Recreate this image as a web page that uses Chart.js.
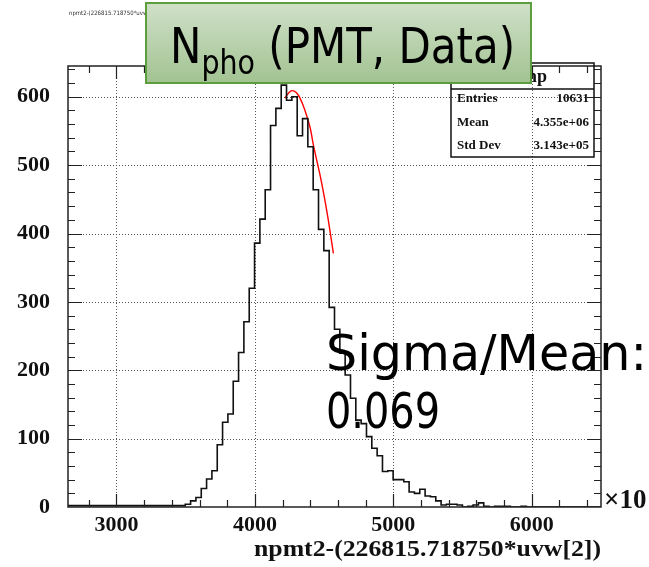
<!DOCTYPE html>
<html>
<head>
<meta charset="utf-8">
<script src="https://cdn.jsdelivr.net/npm/chart.js@4.4.1/dist/chart.umd.min.js"></script>
<style>
  html, body { margin: 0; padding: 0; background: #fff; }
</style>
</head>
<body>
<canvas id="histo" width="649" height="567"></canvas>
<script>
// ---- data ----------------------------------------------------------
// histogram: 100 bins of 38.5 between 2650 and 6500 (x10^3)
const binStart = 2650;
const binWidth = 38.5;
const firstBin = 22; // first non-empty bin
const binCounts = [
  2, 4, 9, 14, 27, 41, 53, 91, 124, 136,
  184, 226, 271, 320, 386, 421, 464, 558, 583, 617,
  595, 600, 543, 568, 527, 464, 406, 375, 292, 260,
  225, 193, 159, 127, 122, 103, 86, 75, 52, 53,
  40, 40, 37, 22, 20, 26, 16, 15, 9, 3,
  4, 4, 3, 0, 1, 3, 6, 1, 0, 1,
  1, 1, 0, 0, 1
];

// red gaussian fit
const fitX = [4217, 4245, 4268, 4300, 4326, 4360, 4400, 4422, 4450, 4470, 4500, 4530, 4567];
const fitY = [598, 606, 609, 606, 598, 581, 554, 530, 504, 486, 455, 420, 371];

// axis labels
const xTickValues = [3000, 4000, 5000, 6000];
const yTickValues = [0, 100, 200, 300, 400, 500, 600];

// stats box
const statsTitle = "htemp";
const statsLabels = ["Entries", "Mean", "Std Dev"];
const statsValues = ["10631", "4.355e+06", "3.143e+05"];

const xTitle = "npmt2-(226815.718750*uvw[2])";
const topTitle = "npmt2-(226815.718750*uvw[2]) {uvw[2]>0}";
const resultLines = ["Sigma/Mean:", "0.069"];

// ---- build datasets -------------------------------------------------
const histPoints = [{ x: binStart, y: 0 }];
binCounts.forEach((c, i) => {
  histPoints.push({ x: binStart + (firstBin + i) * binWidth, y: c });
});
histPoints.push({ x: binStart + (firstBin + binCounts.length) * binWidth, y: 0 });
histPoints.push({ x: 6500, y: 0 });

const fitPoints = fitX.map((x, i) => ({ x: x, y: fitY[i] }));

const SERIF = '"Liberation Serif", "Times New Roman", serif';
const SANS = '"DejaVu Sans Condensed", "DejaVu Sans", sans-serif';

// draw text squeezed/stretched to a given width
function fitText(ctx, text, x, y, width) {
  const w = ctx.measureText(text).width;
  ctx.save();
  ctx.translate(x, y);
  ctx.scale(width / w, 1);
  ctx.fillText(text, 0, 0);
  ctx.restore();
}

// ---- ROOT style frame, ticks, stats and overlays --------------------
const rootFrame = {
  id: "rootFrame",
  beforeDatasetsDraw(chart) {
    const { ctx, chartArea: a, scales } = chart;
    ctx.save();
    ctx.strokeStyle = "#555";
    ctx.lineWidth = 1;
    ctx.setLineDash([1, 2]);
    scales.x.ticks.forEach(t => {
      const px = Math.round(scales.x.getPixelForValue(t.value)) + 0.5;
      ctx.beginPath(); ctx.moveTo(px, a.top); ctx.lineTo(px, a.bottom); ctx.stroke();
    });
    scales.y.ticks.forEach(t => {
      if (t.value === 0) return;
      const py = Math.round(scales.y.getPixelForValue(t.value)) + 0.5;
      ctx.beginPath(); ctx.moveTo(a.left, py); ctx.lineTo(a.right, py); ctx.stroke();
    });
    ctx.restore();
  },
  afterDatasetsDraw(chart) {
    const { ctx, chartArea: a, scales } = chart;
    const sx = scales.x, sy = scales.y;
    ctx.save();

    // frame
    ctx.strokeStyle = "#222";
    ctx.lineWidth = 1.5;
    ctx.strokeRect(a.left, a.top, a.right - a.left, a.bottom - a.top);

    // ticks
    ctx.lineWidth = 1.2;
    ctx.beginPath();
    for (let v = 2800; v <= 6400; v += 200) {
      const px = Math.round(sx.getPixelForValue(v)) + 0.5;
      const len = v % 1000 === 0 ? 13 : 7;
      ctx.moveTo(px, a.bottom); ctx.lineTo(px, a.bottom - len);
      ctx.moveTo(px, a.top); ctx.lineTo(px, a.top + len);
    }
    for (let v = 20; v <= 640; v += 20) {
      const py = Math.round(sy.getPixelForValue(v)) + 0.5;
      const len = v % 100 === 0 ? 14 : 7;
      ctx.moveTo(a.left, py); ctx.lineTo(a.left + len, py);
      ctx.moveTo(a.right, py); ctx.lineTo(a.right - len, py);
    }
    ctx.stroke();

    // axis title and exponent
    ctx.fillStyle = "#111";
    ctx.font = "bold 23px " + SERIF;
    ctx.textBaseline = "alphabetic";
    fitText(ctx, xTitle, 254, 556, 347);
    ctx.font = "bold 27px " + SERIF;
    ctx.fillText("\u00d710", 604, 508);
    ctx.font = "bold 16px " + SERIF;
    ctx.fillText("3", 650, 494);

    // tiny pad title
    ctx.font = "6px " + SANS;
    ctx.fillStyle = "#333";
    ctx.fillText(topTitle, 69, 15);

    // stats box (no fill)
    const bx0 = 451, bx1 = 594, by0 = 63, by1 = 157;
    ctx.strokeStyle = "#111";
    ctx.lineWidth = 1.5;
    ctx.strokeRect(bx0, by0, bx1 - bx0, by1 - by0);
    ctx.beginPath(); ctx.moveTo(bx0, 89); ctx.lineTo(bx1, 89); ctx.stroke();
    ctx.fillStyle = "#111";
    ctx.font = "bold 18px " + SERIF;
    ctx.textAlign = "center";
    ctx.fillText(statsTitle, (bx0 + bx1) / 2, 82);
    ctx.font = "bold 13px " + SERIF;
    statsLabels.forEach((lab, i) => {
      const by = 102 + i * 23.5;
      ctx.textAlign = "left";
      ctx.fillText(lab, bx0 + 6, by);
      ctx.textAlign = "right";
      ctx.fillText(statsValues[i], bx1 - 5, by);
    });
    ctx.textAlign = "left";

    // Sigma/Mean annotation
    ctx.fillStyle = "#000";
    ctx.font = "50px " + SANS;
    fitText(ctx, resultLines[0], 326, 370, 321);
    fitText(ctx, resultLines[1], 326, 428, 114);

    // green title box
    const gx0 = 146, gx1 = 531, gy0 = 3, gy1 = 83;
    const grad = ctx.createLinearGradient(0, gy0, 0, gy1);
    grad.addColorStop(0, "#d0e0c8");
    grad.addColorStop(1, "#a2c392");
    ctx.fillStyle = grad;
    ctx.fillRect(gx0, gy0, gx1 - gx0, gy1 - gy0);
    ctx.strokeStyle = "#5c9d3e";
    ctx.lineWidth = 2;
    ctx.strokeRect(gx0, gy0, gx1 - gx0, gy1 - gy0);

    ctx.fillStyle = "#000";
    const big = "50px " + SANS, small = "34px " + SANS;
    ctx.font = big; const wN = ctx.measureText("N").width;
    ctx.font = small; const wSub = ctx.measureText("pho").width;
    ctx.font = big; const wRest = ctx.measureText(" (PMT, Data)").width;
    const scaleX = 345 / (wN + wSub + wRest);
    ctx.save();
    ctx.translate(170, 63);
    ctx.scale(scaleX, 1);
    ctx.font = big; ctx.fillText("N", 0, 0);
    ctx.font = small; ctx.fillText("pho", wN, 11);
    ctx.font = big; ctx.fillText(" (PMT, Data)", wN + wSub, 0);
    ctx.restore();

    ctx.restore();
  }
};

// ---- chart ----------------------------------------------------------
const tickFont = { family: SERIF, weight: "bold", size: 22 };

new Chart(document.getElementById("histo"), {
  type: "line",
  data: {
    datasets: [
      {
        data: histPoints,
        stepped: "after",
        borderColor: "#111",
        borderWidth: 1.6,
        pointRadius: 0,
        fill: false
      },
      {
        data: fitPoints,
        borderColor: "#ff0000",
        borderWidth: 1.4,
        pointRadius: 0,
        cubicInterpolationMode: "monotone",
        fill: false
      }
    ]
  },
  options: {
    responsive: false,
    animation: false,
    devicePixelRatio: 1,
    layout: { padding: { left: 0, right: 48, top: 66, bottom: 0 } },
    plugins: { legend: { display: false }, tooltip: { enabled: false } },
    scales: {
      x: {
        type: "linear",
        min: 2650,
        max: 6500,
        grid: { display: false },
        border: { display: false },
        ticks: {
          autoSkip: false,
          maxRotation: 0,
          padding: -3,
          color: "#111",
          font: tickFont,
          callback: v => String(v)
        },
        afterBuildTicks: s => { s.ticks = xTickValues.map(v => ({ value: v })); },
        afterFit: s => { s.height = 60; }
      },
      y: {
        min: 0,
        max: 645,
        grid: { display: false },
        border: { display: false },
        ticks: {
          padding: 10,
          color: "#111",
          font: tickFont,
          callback: v => String(v)
        },
        afterBuildTicks: s => { s.ticks = yTickValues.map(v => ({ value: v })); },
        afterFit: s => { s.width = 68; }
      }
    }
  },
  plugins: [rootFrame]
});
</script>
</body>
</html>
